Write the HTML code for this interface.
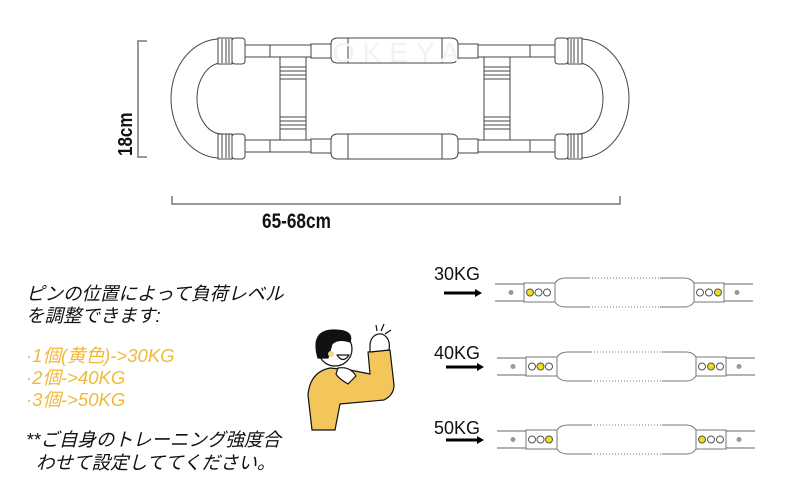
<!DOCTYPE html>
<html><head><meta charset="utf-8"><style>
html,body{margin:0;padding:0;background:#fff;width:800px;height:496px;overflow:hidden}
svg{display:block}
.t{font-family:"Liberation Sans","Noto Sans CJK JP",sans-serif;font-style:italic;font-size:18.5px}
</style></head><body>
<svg width="800" height="496" viewBox="0 0 800 496" xmlns="http://www.w3.org/2000/svg">
<defs>
<g id="row">
  <line x1="495" y1="284" x2="524" y2="284" stroke="#999" stroke-width="1.5"/>
  <line x1="495" y1="301" x2="524" y2="301" stroke="#999" stroke-width="1.5"/>
  <line x1="724" y1="284" x2="753" y2="284" stroke="#999" stroke-width="1.5"/>
  <line x1="724" y1="301" x2="753" y2="301" stroke="#999" stroke-width="1.5"/>
  <circle cx="511" cy="292.5" r="2.5" fill="#999"/>
  <circle cx="737" cy="292.5" r="2.5" fill="#999"/>
  <rect x="524" y="283" width="31" height="19" fill="#fff" stroke="#777" stroke-width="1"/>
  <rect x="694" y="283" width="30" height="19" fill="#fff" stroke="#777" stroke-width="1"/>
  <path d="M555 283 Q558 278 566 278 L684 278 Q691 278 694 283 L694 302 Q691 307 684 307 L566 307 Q558 307 555 302 Z" fill="#fff" stroke="#777" stroke-width="1"/>
  <line x1="590" y1="278" x2="660" y2="278" stroke="#fff" stroke-width="1.5" stroke-dasharray="2 1"/>
  <line x1="590" y1="307" x2="660" y2="307" stroke="#fff" stroke-width="1.5" stroke-dasharray="2 1"/>
  <rect x="444" y="291.5" width="32" height="3" fill="#000"/>
  <path d="M475 289 L482 293 L475 297 Z" fill="#000"/>
</g>
</defs>

<g fill="#fff" stroke="#444" stroke-width="1">
  <path d="M220 39 A49 59.5 0 0 0 220 158 L222 134 A25 35.5 0 0 1 222 63 Z"/>
  <path d="M580 39 A49 59.5 0 0 1 580 158 L578 134 A25 35.5 0 0 0 578 63 Z"/>
  <rect x="244" y="45" width="312" height="12"/>
  <rect x="244" y="140" width="312" height="12"/>
  <rect x="280" y="57" width="26" height="83"/>
  <rect x="484" y="57" width="26" height="83"/>
  <rect x="218" y="38" width="14" height="26"/><rect x="232" y="38" width="13" height="26" rx="3"/>
  <rect x="218" y="134" width="14" height="25"/><rect x="232" y="134" width="13" height="25" rx="3"/>
  <rect x="568" y="38" width="14" height="26"/><rect x="555" y="38" width="13" height="26" rx="3"/>
  <rect x="568" y="134" width="14" height="25"/><rect x="555" y="134" width="13" height="25" rx="3"/>
  <rect x="311" y="44" width="20" height="14"/><rect x="458" y="44" width="20" height="14"/>
  <rect x="311" y="139" width="20" height="14"/><rect x="458" y="139" width="20" height="14"/>
  <path d="M331 44 Q331 38 338 38 L450 38 Q458 38 458 44 L458 57 Q458 63 450 63 L338 63 Q331 63 331 57 Z"/>
  <path d="M331 140 Q331 134 338 134 L450 134 Q458 134 458 140 L458 153 Q458 159 450 159 L338 159 Q331 159 331 153 Z"/>
</g>
<g stroke="#444" stroke-width="1">
  <line x1="270" y1="45" x2="270" y2="57"/><line x1="270" y1="140" x2="270" y2="152"/>
  <line x1="530" y1="45" x2="530" y2="57"/><line x1="530" y1="140" x2="530" y2="152"/>
  <line x1="222" y1="39" x2="222" y2="63"/><line x1="226" y1="39" x2="226" y2="63"/><line x1="229" y1="39" x2="229" y2="63"/>
  <line x1="222" y1="134" x2="222" y2="158"/><line x1="226" y1="134" x2="226" y2="158"/><line x1="229" y1="134" x2="229" y2="158"/>
  <line x1="571" y1="39" x2="571" y2="63"/><line x1="574" y1="39" x2="574" y2="63"/><line x1="578" y1="39" x2="578" y2="63"/>
  <line x1="571" y1="134" x2="571" y2="158"/><line x1="574" y1="134" x2="574" y2="158"/><line x1="578" y1="134" x2="578" y2="158"/>
  <line x1="280" y1="67" x2="306" y2="67"/><line x1="280" y1="71" x2="306" y2="71"/><line x1="280" y1="75" x2="306" y2="75"/><line x1="280" y1="79" x2="306" y2="79"/>
  <line x1="280" y1="117" x2="306" y2="117"/><line x1="280" y1="121" x2="306" y2="121"/><line x1="280" y1="125" x2="306" y2="125"/><line x1="280" y1="129" x2="306" y2="129"/>
  <line x1="484" y1="67" x2="510" y2="67"/><line x1="484" y1="71" x2="510" y2="71"/><line x1="484" y1="75" x2="510" y2="75"/><line x1="484" y1="79" x2="510" y2="79"/>
  <line x1="484" y1="117" x2="510" y2="117"/><line x1="484" y1="121" x2="510" y2="121"/><line x1="484" y1="125" x2="510" y2="125"/><line x1="484" y1="129" x2="510" y2="129"/>
  <line x1="348" y1="38" x2="348" y2="63"/><line x1="442" y1="38" x2="442" y2="63"/>
  <line x1="348" y1="134" x2="348" y2="159"/><line x1="442" y1="134" x2="442" y2="159"/>
</g>
<text x="400" y="62" text-anchor="middle" font-family="Liberation Sans,sans-serif" font-size="28" fill="#f2f2f2" letter-spacing="8">OKEYA</text>

<g stroke="#777" stroke-width="1.5" fill="none">
  <path d="M147 41 L138 41 L138 157 L147 157"/>
  <path d="M172 196 L172 204 L620 204 L620 196"/>
</g>
<text transform="translate(132,156) rotate(-90) scale(0.85,1)" font-family="Liberation Sans,sans-serif" font-weight="bold" font-size="20" fill="#111">18cm</text>
<text transform="translate(262,228) scale(0.82,1)" font-family="Liberation Sans,sans-serif" font-weight="bold" font-size="21" fill="#111">65-68cm</text>

<g font-family="Liberation Sans,sans-serif" font-size="18" fill="#111">
<text x="434" y="280">30KG</text>
<text x="434" y="359">40KG</text>
<text x="434" y="434">50KG</text>
</g>
<use href="#row"/>
<use href="#row" transform="translate(2,74)"/>
<use href="#row" transform="translate(2,147)"/>
<g stroke="#555" stroke-width="1">
  <circle cx="530" cy="292.5" r="3.5" fill="#f2dc1a"/><circle cx="538.5" cy="292.5" r="3.5" fill="#fff"/><circle cx="547" cy="292.5" r="3.5" fill="#fff"/>
  <circle cx="700" cy="292.5" r="3.5" fill="#fff"/><circle cx="709" cy="292.5" r="3.5" fill="#fff"/><circle cx="718" cy="292.5" r="3.5" fill="#f2dc1a"/>
  <circle cx="532" cy="366.5" r="3.5" fill="#fff"/><circle cx="540.5" cy="366.5" r="3.5" fill="#f2dc1a"/><circle cx="549" cy="366.5" r="3.5" fill="#fff"/>
  <circle cx="702" cy="366.5" r="3.5" fill="#fff"/><circle cx="711" cy="366.5" r="3.5" fill="#f2dc1a"/><circle cx="720" cy="366.5" r="3.5" fill="#fff"/>
  <circle cx="532" cy="439.5" r="3.5" fill="#fff"/><circle cx="540.5" cy="439.5" r="3.5" fill="#fff"/><circle cx="549" cy="439.5" r="3.5" fill="#f2dc1a"/>
  <circle cx="702" cy="439.5" r="3.5" fill="#f2dc1a"/><circle cx="711" cy="439.5" r="3.5" fill="#fff"/><circle cx="720" cy="439.5" r="3.5" fill="#fff"/>
</g>

<g class="t" fill="#111">
<text x="26" y="300">ピンの位置によって負荷レベル</text>
<text x="26" y="322">を調整できます:</text>
<text x="26" y="446">**ご自身のトレーニング強度合</text>
<text x="36" y="469">わせて設定しててください。</text>
</g>
<g class="t" fill="#f0b93a">
<text x="26" y="362">·1個(黄色)-&gt;30KG</text>
<text x="26" y="384">·2個-&gt;40KG</text>
<text x="26" y="406">·3個-&gt;50KG</text>
</g>

<g stroke="#111" stroke-width="1.2" stroke-linejoin="round">
  <path d="M312 430 L308 395 Q310 372 330 368 L350 370 L370 374 L368 352 L390 350 L394 385 Q394 395 384 400 L340 404 L335 430 Z" fill="#f2c65a"/>
  <path d="M370 344 Q372 333 382 334 Q391 338 389 350 L370 352 Z" fill="#fff"/>
  <circle cx="335" cy="349" r="17" fill="#fff"/>
  <path d="M318 358 Q310 330 334 330 Q354 330 350 342 Q338 338 332 344 L328 358 Z" fill="#111"/>
  <path d="M337 355 Q343 364 349 355 Z" fill="#fff"/>
  <path d="M338 368 Q350 366 356 376 L348 384 Q338 378 336 374 Z" fill="#fff"/>
  <line x1="376" y1="325" x2="377" y2="331"/><line x1="384" y1="324" x2="381" y2="331"/><line x1="391" y1="330" x2="385" y2="334"/>
</g>
<circle cx="331" cy="354" r="3" fill="#f6d58a"/>
</svg>
</body></html>
